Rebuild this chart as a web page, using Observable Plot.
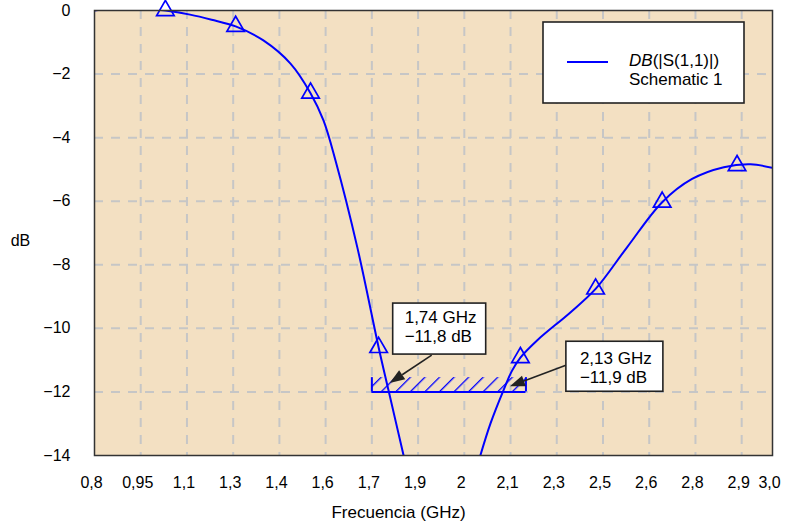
<!DOCTYPE html>
<html>
<head>
<meta charset="utf-8">
<script src="https://cdn.jsdelivr.net/npm/d3@7"></script>
<script src="https://cdn.jsdelivr.net/npm/@observablehq/plot@0.6"></script>
<style>
  body { margin: 0; background: #fff; }
  #chart { position: relative; width: 791px; height: 530px; }
</style>
</head>
<body>
<div id="chart"></div>
<script>
// ---- data ----
const freqLeft = [0.80, 0.85, 0.90, 0.95, 1.03, 1.11, 1.18, 1.258, 1.348, 1.436, 1.501, 1.543, 1.582, 1.653, 1.722, 1.754, 1.803];
const dbLeft   = [0.00, 0.07, 0.09, 0.07, 0.00, -0.13, -0.29, -0.50, -0.94, -1.67, -2.60, -3.46, -4.72, -7.46, -10.60, -11.95, -14.0];
const freqRight = [2.052, 2.085, 2.127, 2.155, 2.182, 2.236, 2.345, 2.426, 2.528, 2.642, 2.739, 2.842, 2.929, 3.00];
const dbRight   = [-14.0, -12.99, -11.95, -11.33, -10.92, -10.38, -9.49, -8.76, -7.45, -6.03, -5.30, -4.93, -4.84, -4.95];
const markerFreq = [1.03, 1.258, 1.501, 1.722, 2.182, 2.426, 2.642, 2.885];
const markerDb   = [0.00, -0.50, -2.60, -10.60, -10.92, -8.76, -6.03, -4.88];
const xTickValues = [0.8, 0.95, 1.1, 1.25, 1.4, 1.55, 1.7, 1.85, 2.0, 2.15, 2.3, 2.45, 2.6, 2.75, 2.9, 3.0];
const xTickLabels = ["0,8", "0,95", "1,1", "1,3", "1,4", "1,6", "1,7", "1,9", "2", "2,1", "2,3", "2,5", "2,6", "2,8", "2,9", "3,0"];
const yTickValues = [0, -2, -4, -6, -8, -10, -12, -14];
const maskFreq = [1.7, 2.2];
const maskDb = -12;
const maskHeight = 0.45;
const calloutFreq = [1.74, 2.13];
const calloutDb = [-11.8, -11.9];
const calloutLine1 = ["1,74 GHz", "2,13 GHz"];
const calloutLine2 = ["\u221211,8 dB", "\u221211,9 dB"];
const legendSeries = "(|S(1,1)|)";
const legendSource = "Schematic 1";

// ---- tables built from the arrays ----
const curve = [
  ...freqLeft.map((f, i) => ({f, db: dbLeft[i], branch: "a"})),
  ...freqRight.map((f, i) => ({f, db: dbRight[i], branch: "b"}))
];
const markers = markerFreq.map((f, i) => ({f, db: markerDb[i]}));
const xLabelMap = new Map(xTickValues.map((v, i) => [v, xTickLabels[i]]));
const mask = [{f1: maskFreq[0], f2: maskFreq[1], y1: maskDb, y2: maskDb + maskHeight}];

const BLUE = "#0000ff";
const FONT = "'Liberation Sans', Arial, sans-serif";
const gridStyle = {stroke: "#c6c6c6", strokeOpacity: 1, strokeWidth: 2, strokeDasharray: "9,8"};

const plot = Plot.plot({
  width: 791,
  height: 530,
  marginLeft: 94,
  marginRight: 19,
  marginTop: 10,
  marginBottom: 75,
  style: {fontFamily: FONT, fontSize: "16px", background: "white", color: "#000"},
  x: {domain: [0.8, 3.0]},
  y: {domain: [-14, 0]},
  marks: [
    Plot.frame({fill: "#F3E0C2", stroke: null}),
    Plot.gridX(xTickValues.slice(1, -1), gridStyle),
    Plot.gridY(yTickValues.slice(1, -1), gridStyle),
    Plot.axisX(xTickValues, {tickSize: 0, tickPadding: 21, dx: -3, tickFormat: d => xLabelMap.get(d), label: null}),
    Plot.axisY(yTickValues, {tickSize: 0, tickPadding: 24, tickFormat: d => d === 0 ? "0" : "\u2212" + Math.abs(d), label: null}),
    Plot.rect(mask, {x1: "f1", x2: "f2", y1: "y1", y2: "y2", fill: "url(#hatch)"}),
    Plot.ruleY([maskDb], {x1: maskFreq[0], x2: maskFreq[1], stroke: BLUE, strokeWidth: 2}),
    Plot.ruleX(maskFreq, {y1: maskDb, y2: maskDb + maskHeight, stroke: BLUE, strokeWidth: 2}),
    Plot.line(curve, {x: "f", y: "db", z: "branch", stroke: BLUE, strokeWidth: 2, curve: "catmull-rom", clip: true}),
    Plot.dot(markers, {x: "f", y: "db", symbol: "triangle", r: 6.5, stroke: BLUE, strokeWidth: 1.7, fill: "none"}),
    Plot.frame({stroke: "#333", strokeWidth: 1.5}),
    Plot.text(["Frecuencia (GHz)"], {frameAnchor: "bottom", textAnchor: "middle", dx: -35, dy: 62, fontSize: 17}),
    Plot.text(["dB"], {frameAnchor: "left", textAnchor: "middle", dx: -74, dy: 8, fontSize: 16})
  ]
});

document.getElementById("chart").appendChild(plot);

// ---- hatch pattern ----
const svg = d3.select(plot.tagName.toLowerCase() === "svg" ? plot : plot.querySelector("svg"));
const defs = svg.insert("defs", ":first-child");
const pat = defs.append("pattern")
  .attr("id", "hatch").attr("patternUnits", "userSpaceOnUse")
  .attr("width", 10.3).attr("height", 10.3)
  .attr("patternTransform", "rotate(45)");
pat.append("line").attr("x1", 0).attr("y1", -2).attr("x2", 0).attr("y2", 13)
  .attr("stroke", BLUE).attr("stroke-width", 2.6);

// ---- callouts, positioned through the plot's scales ----
const sx = plot.scale("x"), sy = plot.scale("y");
const xs = d3.scaleLinear(sx.domain, sx.range);
const ys = d3.scaleLinear(sy.domain, sy.range);
const calloutLayout = [
  {bx: 9, by: -82, bw: 93, bh: 51, tx: 48, ty: -30, l1: 13.5, l2: 32.5, pad: 12},
  {bx: 62, by: -47, bw: 97, bh: 50, tx: 62, ty: -23, l1: 17, l2: 36, pad: 14}
];
calloutFreq.forEach((f, i) => {
  const px = xs(f), py = ys(calloutDb[i]);
  const L = calloutLayout[i];
  const g = svg.append("g");
  const tipX = px + 6, tipY = py - 2;
  const tailX = px + L.tx, tailY = py + L.ty;
  const ang = Math.atan2(tipY - tailY, tipX - tailX);
  const hl = 15, hw = 5.5;
  const bxp = tipX - hl * Math.cos(ang), byp = tipY - hl * Math.sin(ang);
  g.append("line").attr("x1", tailX).attr("y1", tailY).attr("x2", bxp).attr("y2", byp)
    .attr("stroke", "#222").attr("stroke-width", 1.6);
  g.append("polygon").attr("points", [
    [tipX, tipY],
    [bxp + hw * Math.sin(ang), byp - hw * Math.cos(ang)],
    [bxp - hw * Math.sin(ang), byp + hw * Math.cos(ang)]
  ].map(p => p.join(",")).join(" ")).attr("fill", "#222");
  g.append("rect").attr("x", px + L.bx).attr("y", py + L.by).attr("width", L.bw).attr("height", L.bh)
    .attr("fill", "white").attr("stroke", "#222").attr("stroke-width", 1.6);
  [[calloutLine1[i], L.l1], [calloutLine2[i], L.l2]].forEach(([t, off]) => {
    g.append("text").attr("x", px + L.bx + L.pad).attr("y", py + L.by + off)
      .attr("dy", "0.35em").attr("text-anchor", "start").attr("font-family", FONT)
      .attr("font-size", 17).attr("fill", "#000").text(t);
  });
});

// ---- legend box ----
const lg = svg.append("g");
lg.append("rect").attr("x", 543).attr("y", 22).attr("width", 201).attr("height", 81)
  .attr("fill", "white").attr("stroke", "#222").attr("stroke-width", 1.6);
lg.append("line").attr("x1", 567).attr("x2", 608).attr("y1", 62).attr("y2", 62)
  .attr("stroke", BLUE).attr("stroke-width", 2);
const t1 = lg.append("text").attr("x", 629).attr("y", 60).attr("dy", "0.35em").attr("text-anchor", "start")
  .attr("font-family", FONT).attr("font-size", 17).attr("fill", "#000");
t1.append("tspan").attr("font-style", "italic").text("DB");
t1.append("tspan").text(legendSeries);
lg.append("text").attr("x", 629).attr("y", 79).attr("dy", "0.35em").attr("text-anchor", "start")
  .attr("font-family", FONT).attr("font-size", 17).attr("fill", "#000").text(legendSource);
</script>
</body>
</html>
